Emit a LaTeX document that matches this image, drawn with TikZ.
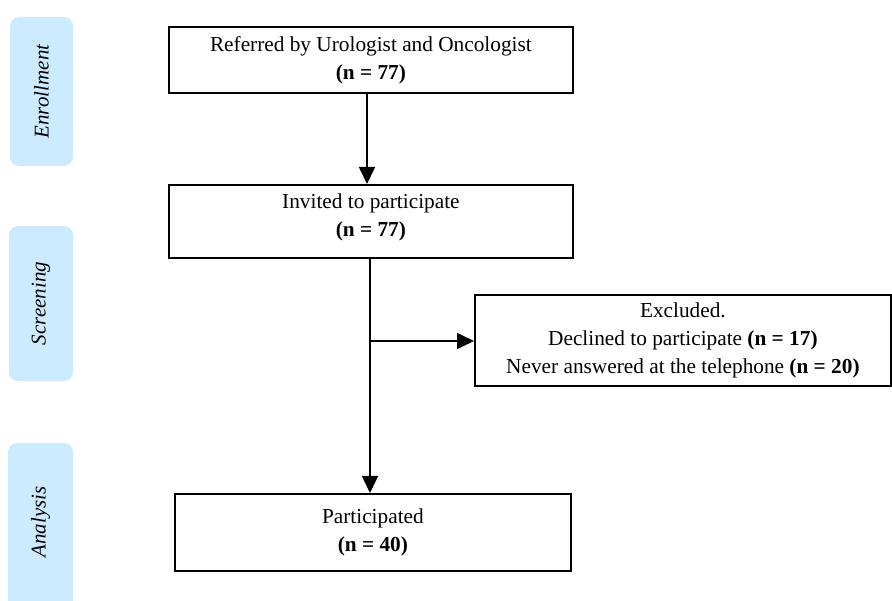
\documentclass[tikz,border=0pt]{standalone}
\usepackage{fontspec}
\setmainfont{Liberation Serif}
\usetikzlibrary{arrows.meta}
\definecolor{tabblue}{HTML}{CCEBFF}
\begin{document}
\begin{tikzpicture}[x=1pt,y=-1pt,
  box/.style={draw,line width=1.8pt,inner sep=0pt,anchor=north west,align=center,font=\fontsize{21.3}{28}\selectfont},
  tab/.style={fill=tabblue,rounded corners=9pt},
  tablabel/.style={rotate=90,font=\fontsize{21}{24}\selectfont\itshape},
  arr/.style={line width=1.6pt,-{Triangle[length=17pt,width=16pt]}},
  ln/.style={line width=1.6pt}]
\clip (0,0) rectangle (892,601);
\useasboundingbox (0,0) rectangle (892,601);
% side tabs
\fill[tab] (10,17) rectangle (73,166);
\node[tablabel] (tE) at (41.5,91.5) {Enrollment};
\fill[tab] (9,226) rectangle (73,381);
\node[tablabel] (tS) at (41,303.5) {Screening};
\fill[tab] (8,443) rectangle (73,630);
\node[tablabel] (tA) at (40.5,522) {Analysis};
% boxes
\node[box,minimum width=404pt,minimum height=66pt] (b1) at (168,26) {Referred by Urologist and Oncologist\\\textbf{(n = 77)}};
\node[box,minimum width=404pt,minimum height=73pt] (b2) at (168,184) {Invited to participate\\\textbf{(n = 77)}\\[-16pt]{}};
\node[box,minimum width=416pt,minimum height=91pt] (b3) at (474,294) {Excluded.\\Declined to participate \textbf{(n = 17)}\\Never answered at the telephone \textbf{(n = 20)}};
\node[box,minimum width=396pt,minimum height=77pt] (b4) at (174,493) {Participated\\\textbf{(n = 40)}};
% connectors
\coordinate (c1) at (367,92);
\coordinate (c2) at (370,257);
\coordinate (cm) at (370,341);
\draw[arr] (c1) -- (c1 |- b2.north);
\draw[arr] (c2) -- (c2 |- b4.north);
\draw[arr] (cm) -- (cm -| b3.west);
\end{tikzpicture}
\end{document}
